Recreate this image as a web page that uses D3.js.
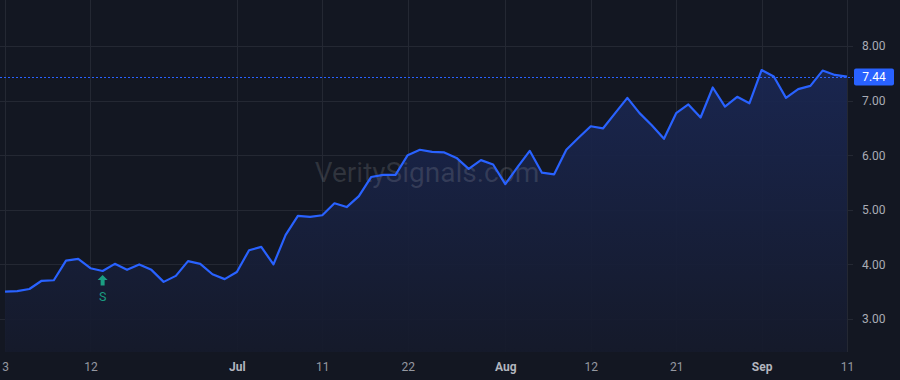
<!DOCTYPE html>
<html>
<head>
<meta charset="utf-8">
<script src="https://cdn.jsdelivr.net/npm/d3@7"></script>
<style>
  html, body { margin: 0; padding: 0; background: #131722; }
  .canvas { width: 900px; height: 380px; }
  text { font-family: Roboto, "Noto Sans", sans-serif; }
</style>
</head>
<body>
<div class="canvas"></div>
<script>
// trading days, Jun 3 – Sep 11
const dates = [
  '2025-06-03','2025-06-04','2025-06-05','2025-06-06','2025-06-09','2025-06-10','2025-06-11','2025-06-12',
  '2025-06-13','2025-06-16','2025-06-17','2025-06-18','2025-06-20','2025-06-23','2025-06-24','2025-06-25',
  '2025-06-26','2025-06-27','2025-06-30','2025-07-01','2025-07-02','2025-07-03','2025-07-07','2025-07-08',
  '2025-07-09','2025-07-10','2025-07-11','2025-07-14','2025-07-15','2025-07-16','2025-07-17','2025-07-18',
  '2025-07-21','2025-07-22','2025-07-23','2025-07-24','2025-07-25','2025-07-28','2025-07-29','2025-07-30',
  '2025-07-31','2025-08-01','2025-08-04','2025-08-05','2025-08-06','2025-08-07','2025-08-08','2025-08-11',
  '2025-08-12','2025-08-13','2025-08-14','2025-08-15','2025-08-18','2025-08-19','2025-08-20','2025-08-21',
  '2025-08-22','2025-08-25','2025-08-26','2025-08-27','2025-08-28','2025-08-29','2025-09-02','2025-09-03',
  '2025-09-04','2025-09-05','2025-09-08','2025-09-09','2025-09-10','2025-09-11'
]
const prices = [
  3.50, 3.51, 3.55, 3.70, 3.71, 4.07, 4.10, 3.93, 3.88, 4.01,
  3.90, 4.00, 3.90, 3.68, 3.79, 4.06, 4.01, 3.82, 3.73, 3.86,
  4.26, 4.32, 4.00, 4.54, 4.89, 4.87, 4.90, 5.12, 5.05, 5.25,
  5.60, 5.64, 5.64, 6.00, 6.10, 6.06, 6.05, 5.95, 5.75, 5.91,
  5.83, 5.47, 5.78, 6.08, 5.68, 5.65, 6.10, 6.32, 6.53, 6.49,
  6.77, 7.05, 6.77, 6.55, 6.30, 6.77, 6.93, 6.69, 7.24, 6.89,
  7.07, 6.95, 7.56, 7.44, 7.05, 7.21, 7.27, 7.55, 7.47, 7.44
]
const xTicks = ['2025-06-03','2025-06-12','2025-07-01','2025-07-11','2025-07-22','2025-08-01','2025-08-12','2025-08-21','2025-09-02','2025-09-11']
const xTickLabels = ['3','12','Jul','11','22','Aug','12','21','Sep','11']
const yTicks = [3, 4, 5, 6, 7, 8]
const lastPrice = 7.44
const signals = [{ date: '2025-06-13', label: 'S' }]

const width = 900, height = 380
const plotRight = 853, plotBottom = 352

const svg = d3.select('.canvas').append('svg')
  .attr('width', width)
  .attr('height', height)

svg.append('rect').attr('width', width).attr('height', height).attr('fill', '#131722')

const x = d3.scalePoint().domain(dates).range([5, 847])
const y = d3.scaleLinear().domain([3, 8]).range([319, 46])

const data = dates.map((d, i) => ({ date: d, value: prices[i] }))

// gradient for area
const defs = svg.append('defs')
const grad = defs.append('linearGradient')
  .attr('id', 'areaGrad')
  .attr('gradientUnits', 'userSpaceOnUse')
  .attr('x1', 0).attr('x2', 0)
  .attr('y1', y(7.6)).attr('y2', plotBottom)
grad.append('stop').attr('offset', '0%').attr('stop-color', '#1a2753')
grad.append('stop').attr('offset', '100%').attr('stop-color', '#151a2b')

// grid
const grid = svg.append('g')
grid.selectAll('.hg').data(yTicks).join('line')
  .attr('x1', 0).attr('x2', plotRight)
  .attr('y1', d => Math.round(y(d)) + 0.5).attr('y2', d => Math.round(y(d)) + 0.5)
  .attr('stroke', '#242833')
grid.selectAll('.vg').data(xTicks).join('line')
  .attr('x1', d => Math.round(x(d)) + 0.5).attr('x2', d => Math.round(x(d)) + 0.5)
  .attr('y1', 0).attr('y2', plotBottom)
  .attr('stroke', '#242833')

// area
svg.append('path').datum(data)
  .attr('fill', 'url(#areaGrad)')
  .attr('fill-opacity', 0.92)
  .attr('d', d3.area().x(d => x(d.date)).y0(plotBottom).y1(d => y(d.value)))

// watermark
svg.append('text')
  .attr('x', 427).attr('y', 182)
  .attr('text-anchor', 'middle')
  .attr('font-size', 28)
  .attr('fill', '#ffffff').attr('fill-opacity', 0.13)
  .text('VeritySignals.com')

// line
svg.append('path').datum(data)
  .attr('fill', 'none')
  .attr('stroke', '#2962ff')
  .attr('stroke-width', 2.2)
  .attr('stroke-linejoin', 'round')
  .attr('d', d3.line().x(d => x(d.date)).y(d => y(d.value)))

// last price line
svg.append('line')
  .attr('x1', 0).attr('x2', plotRight)
  .attr('y1', Math.round(y(lastPrice)) + 0.5).attr('y2', Math.round(y(lastPrice)) + 0.5)
  .attr('stroke', '#2962ff').attr('stroke-dasharray', '2,2')

// signal marker
signals.forEach(s => {
  const cx = x(s.date)
  const g = svg.append('g').attr('transform', `translate(${cx},0)`)
  g.append('path')
    .attr('d', 'M0,275 L5,280 L2,280 L2,285.5 L-2,285.5 L-2,280 L-5,280 Z')
    .attr('fill', '#1b9e82')
  g.append('text')
    .attr('y', 301).attr('text-anchor', 'middle')
    .attr('font-size', 12.5).attr('fill', '#1b9e82')
    .text(s.label)
})

// right axis
const yAxis = svg.append('g')
  .attr('transform', `translate(${plotRight},0)`)
  .call(d3.axisRight(y).tickValues(yTicks).tickFormat(d3.format('.2f')).tickSize(0).tickPadding(9))
yAxis.select('.domain').remove()
yAxis.selectAll('text').attr('fill', '#a9acb5').attr('font-size', 12)
  .attr('font-family', 'Roboto, sans-serif')

// price label
const py = y(lastPrice)
svg.append('rect')
  .attr('x', 854).attr('y', py - 8).attr('width', 40).attr('height', 17).attr('rx', 2)
  .attr('fill', '#2962ff')
svg.append('text')
  .attr('x', 874).attr('y', py + 0.5).attr('dy', '0.35em')
  .attr('text-anchor', 'middle').attr('font-size', 12).attr('fill', '#ffffff')
  .text(lastPrice.toFixed(2))

// bottom axis
const xAxis = svg.append('g')
  .attr('transform', `translate(0,${plotBottom})`)
  .call(d3.axisBottom(x).tickValues(xTicks).tickFormat((d, i) => xTickLabels[i]).tickSize(0).tickPadding(10))
xAxis.select('.domain').remove()
xAxis.selectAll('text')
  .attr('font-size', 12)
  .attr('font-family', 'Roboto, sans-serif')
  .attr('fill', (d, i) => isNaN(+xTickLabels[i]) ? '#b2b5be' : '#9598a1')
  .attr('font-weight', (d, i) => isNaN(+xTickLabels[i]) ? 'bold' : 'normal')
</script>
</body>
</html>
